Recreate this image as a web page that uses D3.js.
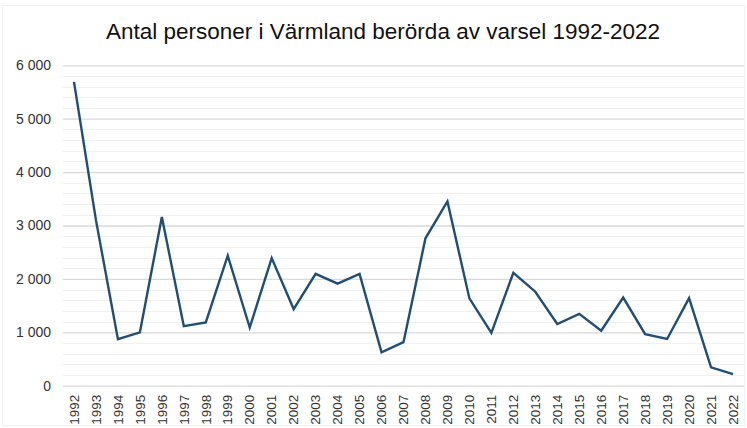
<!DOCTYPE html>
<html>
<head>
<meta charset="utf-8">
<script src="https://cdn.jsdelivr.net/npm/d3@7"></script>
<style>
  body { margin: 0; background: #fff; }
  text { font-family: "Liberation Sans", Arial, sans-serif; }
</style>
</head>
<body>
<svg id="chart" width="747" height="428"></svg>
<script>
// data
var years = ["1992","1993","1994","1995","1996","1997","1998","1999","2000","2001",
             "2002","2003","2004","2005","2006","2007","2008","2009","2010","2011",
             "2012","2013","2014","2015","2016","2017","2018","2019","2020","2021","2022"]
var persons = [5690, 3100, 870, 1000, 3160, 1115, 1185, 2435, 1090, 2390,
               1435, 2095, 1910, 2095, 625, 815, 2760, 3450, 1635, 990,
               2115, 1760, 1155, 1345, 1030, 1650, 965, 875, 1640, 345, 215]
var yTicks = [0, 1000, 2000, 3000, 4000, 5000, 6000]
var titleText = "Antal personer i Värmland berörda av varsel 1992-2022"

var svg = d3.select("#chart")
var width = 747, height = 428
var margin = {left: 63, right: 3, top: 65.3, bottom: 42.3}

// faint frame round the chart
svg.append("rect")
    .attr("x", 2.5).attr("y", 5.5)
    .attr("width", width - 5).attr("height", height - 8)
    .attr("fill", "none")
    .attr("stroke", "#f2f2f2")

var x = d3.scaleBand()
    .domain(years)
    .range([margin.left, width - margin.right])

var y = d3.scaleLinear()
    .domain([0, 6000])
    .range([height - margin.bottom, margin.top])

// minor gridlines every 200
var minor = d3.range(200, 6000, 200).filter(function(v) { return v % 1000 != 0 })
svg.append("g").selectAll("line")
    .data(minor)
    .enter()
    .append("line")
    .attr("x1", margin.left).attr("x2", width - margin.right)
    .attr("y1", function(d) { return Math.round(y(d)) + 0.5 })
    .attr("y2", function(d) { return Math.round(y(d)) + 0.5 })
    .attr("stroke", "#f0f0f0")
    .attr("stroke-width", 1)

// major gridlines and labels
var fmt = function(v) { return d3.format(",")(v).replace(/,/g, " ") }
var yAxis = d3.axisLeft(y)
    .tickValues(yTicks)
    .tickSize(-(width - margin.left - margin.right))
    .tickPadding(12)
    .tickFormat(fmt)

var gy = svg.append("g")
    .attr("transform", "translate(" + margin.left + ",0)")
    .call(yAxis)
gy.select(".domain").remove()
gy.selectAll(".tick line").attr("stroke", "#d9d9d9").attr("stroke-width", 1.3)
gy.selectAll(".tick text")
    .attr("font-size", "14px")
    .attr("fill", "#333")
    .attr("font-family", "Liberation Sans, Arial, sans-serif")

// x axis labels, rotated
var xAxis = d3.axisBottom(x).tickSize(0).tickPadding(0)
var gx = svg.append("g")
    .attr("transform", "translate(0," + (height - margin.bottom) + ")")
    .call(xAxis)
gx.select(".domain").remove()
gx.selectAll(".tick text")
    .attr("transform", "rotate(-90)")
    .attr("text-anchor", "end")
    .attr("x", -9)
    .attr("y", 0)
    .attr("dy", "0.35em")
    .attr("font-size", "13.5px")
    .attr("fill", "#333")
    .attr("font-family", "Liberation Sans, Arial, sans-serif")

// the line
var line = d3.line()
    .x(function(d, i) { return x(years[i]) + x.bandwidth() / 2 })
    .y(function(d) { return y(d) })

svg.append("path")
    .datum(persons)
    .attr("d", line)
    .attr("fill", "none")
    .attr("stroke", "#1f4e79")
    .attr("stroke-width", 2.4)
    .attr("stroke-linejoin", "miter")

// title
svg.append("text")
    .attr("x", 383)
    .attr("y", 39)
    .attr("text-anchor", "middle")
    .attr("font-size", "22.5px")
    .attr("fill", "#111")
    .text(titleText)
</script>
</body>
</html>
